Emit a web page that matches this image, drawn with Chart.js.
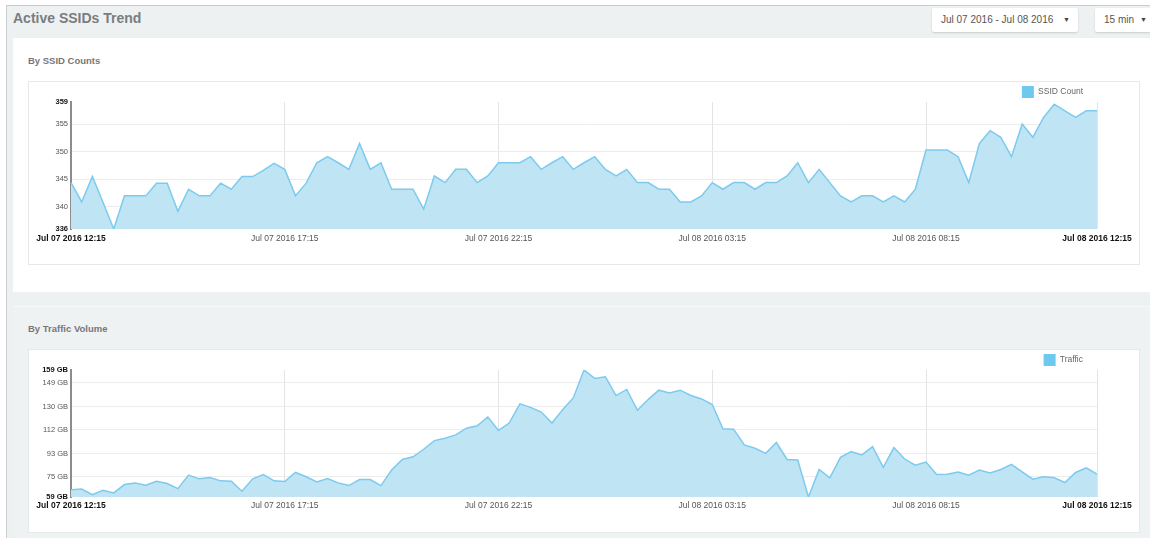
<!DOCTYPE html>
<html>
<head>
<meta charset="utf-8">
<title>Active SSIDs Trend</title>
<script src="https://cdn.jsdelivr.net/npm/chart.js@4.4.1/dist/chart.umd.min.js"></script>
<style>
  body { margin: 0; background: #fff; font-family: "Liberation Sans", Arial, sans-serif; }
  #page { position: absolute; left: 6px; top: 5px; width: 1150px; height: 540px;
          background: #eef1f2; border-left: 1px solid #c9cccd; border-top: 1px solid #c9cccd; }
  .title { position: absolute; left: 6px; top: 4px; font-size: 14px; font-weight: bold; color: #7a7d80; }
  .dropdown { position: absolute; top: 2px; height: 24px; background: #fff; border-radius: 2px;
              box-shadow: 0 1px 2px rgba(0,0,0,0.15); font-size: 10px; color: #555; line-height: 24px; }
  .dropdown .caret { position: absolute; right: 8px; top: 0; font-size: 7px; color: #444; }
  .panel { position: absolute; left: 6px; width: 1150px; }
  .panel h3 { position: absolute; left: 15px; margin: 0; font-size: 9.5px; font-weight: bold; color: #777; }
  .box { position: absolute; left: 15px; width: 1110px; background: #fff; border: 1px solid #e6e9ea; }
  .box canvas { position: absolute; left: 0; top: 0; }
</style>
</head>
<body>
<div id="page">
  <div class="title">Active SSIDs Trend</div>
  <div class="dropdown" style="left:925px;width:146px;"><span style="margin-left:9px">Jul 07 2016 - Jul 08 2016</span><span class="caret">&#9660;</span></div>
  <div class="dropdown" style="left:1088px;width:60px;"><span style="margin-left:9px">15 min</span><span class="caret">&#9660;</span></div>

  <div class="panel" style="top:32px;height:254px;background:#fff;">
    <h3 style="top:17px;">By SSID Counts</h3>
    <div class="box" style="top:43px;height:182px;">
      <canvas id="ssidChart" width="1110" height="182"></canvas>
    </div>
  </div>

  <div class="panel" style="top:300px;height:232px;background:#eff2f3;border-top:1px solid #f7f8f9;">
    <h3 style="top:16px;">By Traffic Volume</h3>
    <div class="box" style="top:42px;height:182px;">
      <canvas id="trafficChart" width="1110" height="182"></canvas>
    </div>
  </div>
</div>

<script>
// 15 minute buckets, Jul 07 2016 12:15 -> Jul 08 2016 12:15
const months = ["Jan","Feb","Mar","Apr","May","Jun","Jul","Aug","Sep","Oct","Nov","Dec"];
const pad = n => String(n).padStart(2, "0");
const timeLabels = [];
for (let i = 0; i <= 96; i++) {
  const d = new Date(2016, 6, 7, 12, 15 + i * 15);
  timeLabels.push(`${months[d.getMonth()]} ${pad(d.getDate())} ${d.getFullYear()} ${pad(d.getHours())}:${pad(d.getMinutes())}`);
}
const shownLabels = [0, 20, 40, 60, 80, 96];

const ssidCounts = [
  344.4, 340.9, 345.5, 340.8, 336, 342, 342, 342, 344.3, 344.3,
  339.2, 343.2, 342, 342, 344.3, 343.2, 345.5, 345.5, 346.6, 347.9,
  346.8, 342, 344.3, 348, 349.1, 348, 346.8, 351.5, 346.8, 348,
  343.2, 343.2, 343.2, 339.6, 345.6, 344.4, 346.8, 346.8, 344.4, 345.6,
  348, 348, 348, 349.1, 346.8, 348, 349.1, 346.8, 348, 349.1,
  346.8, 345.6, 346.8, 344.4, 344.4, 343.2, 343.2, 340.9, 340.9, 342,
  344.4, 343.2, 344.4, 344.4, 343.2, 344.4, 344.4, 345.6, 348, 344.4,
  346.8, 344.4, 342, 340.9, 342, 342, 340.9, 342, 340.9, 343.2,
  350.3, 350.3, 350.3, 349.1, 344.4, 351.5, 353.8, 352.6, 349.1, 355,
  352.6, 356.2, 358.6, 357.4, 356.2, 357.4, 357.4
];
const ssidTicks = [336, 340, 345, 350, 355, 359];

// traffic in GB
const trafficGB = [
  64.8, 65.3, 60.9, 64.3, 62.2, 68.8, 70.1, 68.3, 71.4, 69.6,
  65.6, 76.2, 73.3, 74.3, 71.7, 71.4, 63.5, 73.3, 76.7, 71.7,
  71.2, 78.3, 74.9, 70.9, 73.6, 70.1, 68, 72.8, 72.8, 68,
  80.2, 88.6, 90.7, 96.6, 103.4, 105.3, 107.9, 113.2, 115.1, 122,
  111.4, 117.2, 132.3, 129.6, 125.9, 117.2, 127.8, 137, 159, 152.4,
  153.7, 138.9, 143.7, 127.3, 135.7, 143.1, 141, 143.1, 138.9, 136.2,
  131.8, 112.7, 112.4, 100, 97.4, 93.4, 101.9, 88.6, 88.1, 59,
  80.7, 74.1, 90.2, 94.7, 92.1, 98.7, 82.3, 97.9, 88.9, 84.1,
  86.5, 76.7, 77, 78.6, 76.2, 80.2, 78, 80.7, 84.7, 78.8,
  73, 74.9, 74.1, 70.4, 78.3, 82, 77
];
const trafficTicks = [59, 75, 93, 112, 130, 149, 159];

const lineColor = "#7dcaee";
const fillColor = "#bfe5f5";
const legendColor = "#6fc8ee";

// the legend box is a bit tall by default and sits flush right; tighten it up
function legendTweak(height, shiftLeft) {
  return {
    id: "legendTweak",
    beforeLayout(chart) {
      const lg = chart.legend;
      if (lg && !lg._tweaked) {
        const fit = lg.fit.bind(lg);
        lg.fit = function () { fit(); this.height = height; };
        lg._tweaked = true;
      }
    },
    afterLayout(chart) {
      if (chart.legend) chart.legend.right -= shiftLeft;
    }
  };
}

function buildChart(canvasId, label, values, tickValues, unit, labelPad) {
  const last = tickValues.length - 1;
  return new Chart(document.getElementById(canvasId), {
    type: "line",
    data: {
      labels: timeLabels,
      datasets: [{
        label: label,
        data: values,
        borderColor: lineColor,
        backgroundColor: fillColor,
        borderWidth: 1.5,
        fill: "start",
        pointRadius: 0,
        tension: 0
      }]
    },
    plugins: [legendTweak(20, 10)],
    options: {
      responsive: false,
      animation: false,
      layout: { padding: { left: 0, right: 42, top: 0, bottom: 0 } },
      plugins: {
        tooltip: { enabled: false },
        legend: {
          position: "top",
          align: "end",
          labels: {
            boxWidth: 12,
            boxHeight: 12,
            padding: 4,
            color: "#666",
            font: { family: "Liberation Sans", size: 8.5 },
            generateLabels: chart => Chart.defaults.plugins.legend.labels.generateLabels(chart).map(l => {
              l.fillStyle = legendColor;
              l.strokeStyle = legendColor;
              l.lineWidth = 0;
              return l;
            })
          }
        }
      },
      scales: {
        x: {
          offset: false,
          border: { display: false },
          grid: {
            drawTicks: false,
            color: ctx => shownLabels.includes(ctx.index) ? "#e4e4e4" : "rgba(0,0,0,0)"
          },
          ticks: {
            autoSkip: false,
            maxRotation: 0,
            padding: labelPad,
            color: ctx => (ctx.index === 0 || ctx.index === 96) ? "#111" : "#555",
            font: ctx => ({ family: "Liberation Sans", size: 8.5,
                            weight: (ctx.index === 0 || ctx.index === 96) ? "bold" : "normal" }),
            callback: (v, i) => shownLabels.includes(i) ? timeLabels[i] : ""
          },
          afterFit: scale => { scale.height = 35; }
        },
        y: {
          min: tickValues[0],
          max: tickValues[last],
          border: { display: true, color: "#8c8c8c", width: 2 },
          grid: {
            drawTicks: false,
            color: ctx => (ctx.index === 0 || ctx.index === last) ? "rgba(0,0,0,0)" : "#ececec"
          },
          afterBuildTicks: scale => { scale.ticks = tickValues.map(v => ({ value: v })); },
          afterFit: scale => { scale.width = 42; },
          ticks: {
            padding: 3,
            color: ctx => (ctx.index === 0 || ctx.index === last) ? "#111" : "#555",
            font: ctx => ({ family: "Liberation Sans", size: 7.5,
                            weight: (ctx.index === 0 || ctx.index === last) ? "bold" : "normal" }),
            callback: v => v + unit
          }
        }
      }
    }
  });
}

buildChart("ssidChart", "SSID Count", ssidCounts, ssidTicks, "", 5);
buildChart("trafficChart", "Traffic", trafficGB, trafficTicks, " GB", 4);
</script>
</body>
</html>
